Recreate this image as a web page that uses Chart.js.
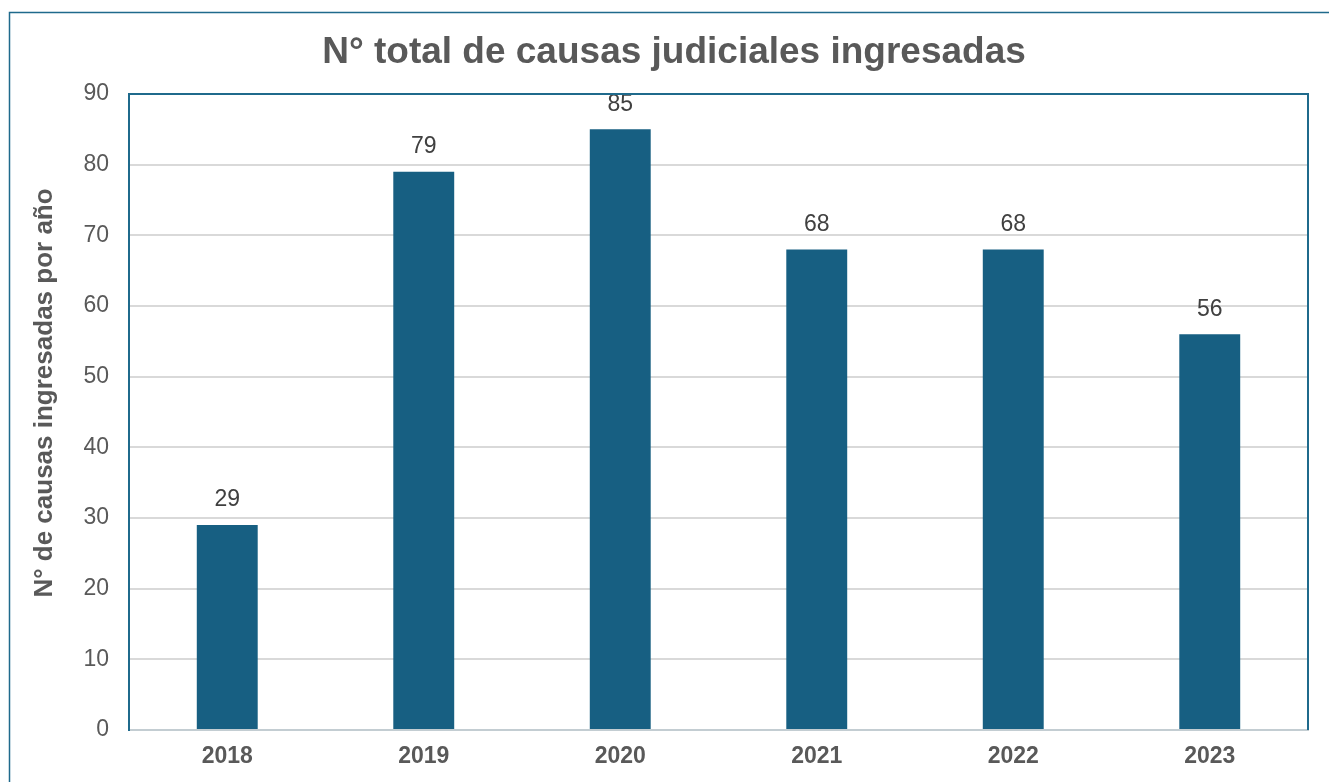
<!DOCTYPE html>
<html>
<head>
<meta charset="utf-8">
<script src="https://cdn.jsdelivr.net/npm/chart.js@4"></script>
<style>
  html, body { margin: 0; padding: 0; background: #fff; }
  #wrap { width: 1329px; height: 782px; position: relative; }
</style>
</head>
<body>
<div id="wrap"><canvas id="causasChart" width="1329" height="782"></canvas></div>
<script>
  // Data
  var years = ['2018', '2019', '2020', '2021', '2022', '2023'];
  var causas = [29, 79, 85, 68, 68, 56];
  var yTicks = [0, 10, 20, 30, 40, 50, 60, 70, 80, 90];
  var chartTitle = 'N° total de causas judiciales ingresadas';
  var yTitle = 'N° de causas ingresadas por año';

  var barColor = '#175f82';
  var frameColor = '#1f6a8c';
  var textGray = '#595959';
  var fontFam = '"Liberation Sans", Arial, sans-serif';

  // outer frame, top/right border of the plot area, titles
  var framePlugin = {
    id: 'frame',
    afterDraw: function(chart) {
      var ctx = chart.ctx, a = chart.chartArea;
      ctx.save();
      ctx.strokeStyle = frameColor;
      ctx.lineWidth = 1.5;
      ctx.strokeRect(9.5, 12.5, 1400, 900);
      ctx.lineWidth = 2;
      ctx.beginPath();
      ctx.moveTo(a.left, a.top);
      ctx.lineTo(a.right, a.top);
      ctx.lineTo(a.right, a.bottom);
      ctx.stroke();

      ctx.fillStyle = textGray;
      ctx.textAlign = 'center';
      ctx.textBaseline = 'middle';
      ctx.font = 'bold 37px ' + fontFam;
      ctx.fillText(chartTitle, 674, 53);

      ctx.translate(45, 393);
      ctx.rotate(-Math.PI / 2);
      ctx.font = 'bold 26px ' + fontFam;
      ctx.fillText(yTitle, 0, 0);
      ctx.restore();
    }
  };

  // value labels above bars
  var valueLabels = {
    id: 'valueLabels',
    afterDatasetsDraw: function(chart) {
      var ctx = chart.ctx;
      var meta = chart.getDatasetMeta(0);
      ctx.save();
      ctx.font = '23px ' + fontFam;
      ctx.fillStyle = '#404040';
      ctx.textAlign = 'center';
      ctx.textBaseline = 'middle';
      meta.data.forEach(function(bar, i) {
        ctx.fillText(causas[i], bar.x, bar.y - 25);
      });
      ctx.restore();
    }
  };

  new Chart(document.getElementById('causasChart'), {
    type: 'bar',
    data: {
      labels: years,
      datasets: [{
        label: 'Causas',
        data: causas,
        backgroundColor: barColor,
        borderWidth: 0,
        categoryPercentage: 1,
        barPercentage: 0.31
      }]
    },
    options: {
      responsive: false,
      animation: false,
      layout: { padding: { left: 0, right: 21, top: 94, bottom: 0 } },
      plugins: {
        legend: { display: false },
        tooltip: { enabled: false },
        title: { display: false }
      },
      scales: {
        x: {
          grid: { display: false, drawTicks: false },
          border: { display: true, color: '#c3cdd2', width: 2 },
          ticks: {
            color: textGray,
            padding: 13,
            font: { family: fontFam, size: 23, weight: 'bold' }
          },
          afterFit: function(scale) { scale.height = 52; }
        },
        y: {
          min: 0,
          max: 90,
          afterBuildTicks: function(scale) {
            scale.ticks = yTicks.map(function(v) { return { value: v }; });
          },
          grid: { color: '#d9d9d9', lineWidth: 2, drawTicks: false },
          border: { display: true, color: frameColor, width: 2 },
          ticks: {
            color: textGray,
            padding: 20,
            font: { family: fontFam, size: 23 }
          },
          afterFit: function(scale) { scale.width = 129; }
        }
      }
    },
    plugins: [framePlugin, valueLabels]
  });
</script>
</body>
</html>
